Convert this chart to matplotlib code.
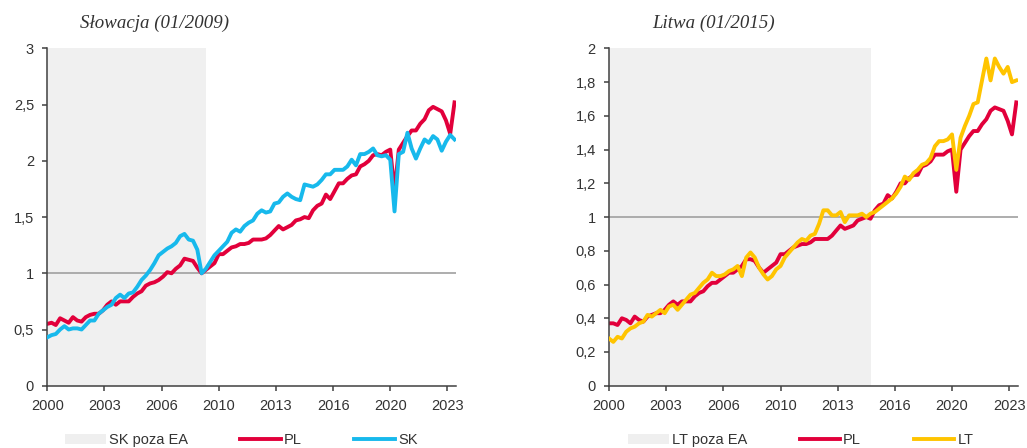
import numpy as np
import pandas as pd
import matplotlib
matplotlib.use("Agg")
import matplotlib.pyplot as plt
import matplotlib.dates as mdates
from matplotlib.patches import Patch
from matplotlib.lines import Line2D

# kwartały 2000Q1 - 2023Q4
kwartaly = pd.date_range("2000-01-01", periods=96, freq="QS")

pl_sk = [0.55, 0.56, 0.54, 0.60, 0.58, 0.56, 0.61, 0.58, 0.57, 0.61, 0.63, 0.64,
         0.64, 0.67, 0.72, 0.75, 0.72, 0.75, 0.75, 0.75, 0.79, 0.82, 0.84, 0.89,
         0.91, 0.92, 0.94, 0.97, 1.01, 1.00, 1.04, 1.07, 1.13, 1.12, 1.11, 1.05,
         1.00, 1.03, 1.06, 1.09, 1.17, 1.17, 1.20, 1.23, 1.24, 1.26, 1.26, 1.27,
         1.30, 1.30, 1.30, 1.31, 1.34, 1.38, 1.42, 1.39, 1.41, 1.43, 1.47, 1.48,
         1.50, 1.49, 1.56, 1.60, 1.62, 1.70, 1.66, 1.73, 1.80, 1.80, 1.84, 1.87,
         1.88, 1.95, 1.97, 2.00, 2.05, 2.06, 2.05, 2.08, 2.10, 1.73, 2.10, 2.16,
         2.22, 2.27, 2.27, 2.33, 2.37, 2.45, 2.48, 2.46, 2.44, 2.36, 2.24, 2.52]

sk = [0.43, 0.45, 0.46, 0.50, 0.53, 0.50, 0.51, 0.51, 0.50, 0.54, 0.58, 0.58,
      0.64, 0.67, 0.70, 0.72, 0.78, 0.81, 0.78, 0.82, 0.83, 0.88, 0.94, 0.98,
      1.03, 1.09, 1.16, 1.19, 1.22, 1.24, 1.27, 1.33, 1.35, 1.30, 1.29, 1.21,
      1.00, 1.04, 1.10, 1.16, 1.20, 1.24, 1.28, 1.36, 1.39, 1.37, 1.42, 1.45,
      1.47, 1.53, 1.56, 1.54, 1.55, 1.62, 1.63, 1.68, 1.71, 1.68, 1.66, 1.65,
      1.79, 1.78, 1.77, 1.79, 1.83, 1.88, 1.88, 1.92, 1.92, 1.92, 1.95, 2.01,
      1.96, 2.06, 2.06, 2.08, 2.11, 2.05, 2.04, 2.05, 2.01, 1.55, 2.06, 2.08,
      2.25, 2.11, 2.02, 2.11, 2.19, 2.16, 2.22, 2.19, 2.09, 2.17, 2.23, 2.19]

pl_lt = [0.37, 0.37, 0.36, 0.40, 0.39, 0.37, 0.41, 0.39, 0.38, 0.41, 0.42, 0.43,
         0.43, 0.45, 0.48, 0.50, 0.48, 0.50, 0.50, 0.50, 0.53, 0.55, 0.56, 0.59,
         0.61, 0.61, 0.63, 0.65, 0.67, 0.67, 0.69, 0.71, 0.75, 0.75, 0.74, 0.70,
         0.67, 0.69, 0.71, 0.73, 0.78, 0.78, 0.80, 0.82, 0.83, 0.84, 0.84, 0.85,
         0.87, 0.87, 0.87, 0.87, 0.89, 0.92, 0.95, 0.93, 0.94, 0.95, 0.98, 0.99,
         1.00, 0.99, 1.04, 1.07, 1.08, 1.13, 1.11, 1.15, 1.20, 1.20, 1.23, 1.25,
         1.25, 1.30, 1.31, 1.33, 1.37, 1.37, 1.37, 1.39, 1.40, 1.15, 1.40, 1.44,
         1.48, 1.51, 1.51, 1.55, 1.58, 1.63, 1.65, 1.64, 1.63, 1.57, 1.49, 1.68]

lt = [0.28, 0.26, 0.29, 0.28, 0.32, 0.34, 0.35, 0.37, 0.38, 0.42, 0.41, 0.43,
      0.45, 0.43, 0.47, 0.48, 0.45, 0.48, 0.51, 0.54, 0.55, 0.58, 0.61, 0.63,
      0.67, 0.65, 0.65, 0.66, 0.68, 0.69, 0.71, 0.65, 0.76, 0.79, 0.76, 0.70,
      0.66, 0.63, 0.65, 0.69, 0.71, 0.76, 0.79, 0.82, 0.85, 0.87, 0.86, 0.89,
      0.90, 0.96, 1.04, 1.04, 1.01, 1.01, 1.03, 0.97, 1.01, 1.01, 1.01, 1.02,
      1.00, 1.02, 1.03, 1.05, 1.07, 1.09, 1.11, 1.14, 1.18, 1.24, 1.22, 1.26,
      1.28, 1.31, 1.32, 1.35, 1.42, 1.45, 1.45, 1.46, 1.49, 1.28, 1.47, 1.54,
      1.60, 1.67, 1.68, 1.81, 1.94, 1.81, 1.94, 1.89, 1.85, 1.89, 1.80, 1.81]

znaczniki_x = pd.date_range("2000-01-01", periods=8, freq="40MS")

panele = [
    dict(tytul="Słowacja (01/2009)", kraj=sk, pl=pl_sk, kolor="#17b9ec",
         koniec_ea="2009-04-01", ymax=3, krok=0.5, etykieta="SK",
         poza="SK poza EA", pos=[0.046, 0.139, 0.398, 0.753],
         tx=80, lx=65),
    dict(tytul="Litwa (01/2015)", kraj=lt, pl=pl_lt, kolor="#ffc400",
         koniec_ea="2015-04-01", ymax=2, krok=0.2, etykieta="LT",
         poza="LT poza EA", pos=[0.593, 0.139, 0.398, 0.753],
         tx=652, lx=628),
]

plt.rcParams["font.family"] = ["Liberation Sans", "DejaVu Sans"]
fig = plt.figure(figsize=(10.27, 4.48), dpi=100)

for p in panele:
    ax = fig.add_axes(p["pos"])
    ax.axvspan(pd.Timestamp("2000-01-01"), pd.Timestamp(p["koniec_ea"]),
               color="#f0f0f0", lw=0, zorder=0)
    ax.axhline(1, color="#a0a0a0", lw=1.2, zorder=1)
    ax.plot(kwartaly, p["pl"], color="#e2003b", lw=2.8, zorder=2,
            solid_joinstyle="round")
    ax.plot(kwartaly, p["kraj"], color=p["kolor"], lw=2.8, zorder=3,
            solid_joinstyle="round")

    ax.set_xlim(pd.Timestamp("2000-01-01"), pd.Timestamp("2023-11-01"))
    ax.set_ylim(0, p["ymax"])
    ax.set_xticks(znaczniki_x)
    ax.xaxis.set_major_formatter(mdates.DateFormatter("%Y"))
    yt = np.arange(0, p["ymax"] + 1e-9, p["krok"])
    ax.set_yticks(yt)
    ax.set_yticklabels([("%g" % v).replace(".", ",") for v in yt])

    for s in ["top", "right"]:
        ax.spines[s].set_visible(False)
    for s in ["left", "bottom"]:
        ax.spines[s].set_color("#404040")
        ax.spines[s].set_linewidth(1.1)
    ax.tick_params(colors="#404040", labelcolor="#333333", labelsize=10.5,
                   length=3.5, width=1.1, pad=6)

    fig.text(p["tx"] / 1027, 1 - 23 / 448, p["tytul"], fontsize=13.6,
             style="italic", family="Liberation Serif", color="#333333",
             va="center", ha="left")

    uchwyty = [Patch(facecolor="#efefef", edgecolor="none"),
               Line2D([], [], color="#e2003b", lw=2.8),
               Line2D([], [], color=p["kolor"], lw=2.8)]
    fig.legend(uchwyty, [p["poza"], "PL", p["etykieta"]], ncol=3,
               loc="center left", bbox_to_anchor=(p["lx"] / 1027, 0.018),
               frameon=False, fontsize=10.5, handlelength=2.8,
               handletextpad=0.2, columnspacing=3.6, borderpad=0,
               borderaxespad=0, labelcolor="#333333")

fig.savefig("out.png", dpi=100)
